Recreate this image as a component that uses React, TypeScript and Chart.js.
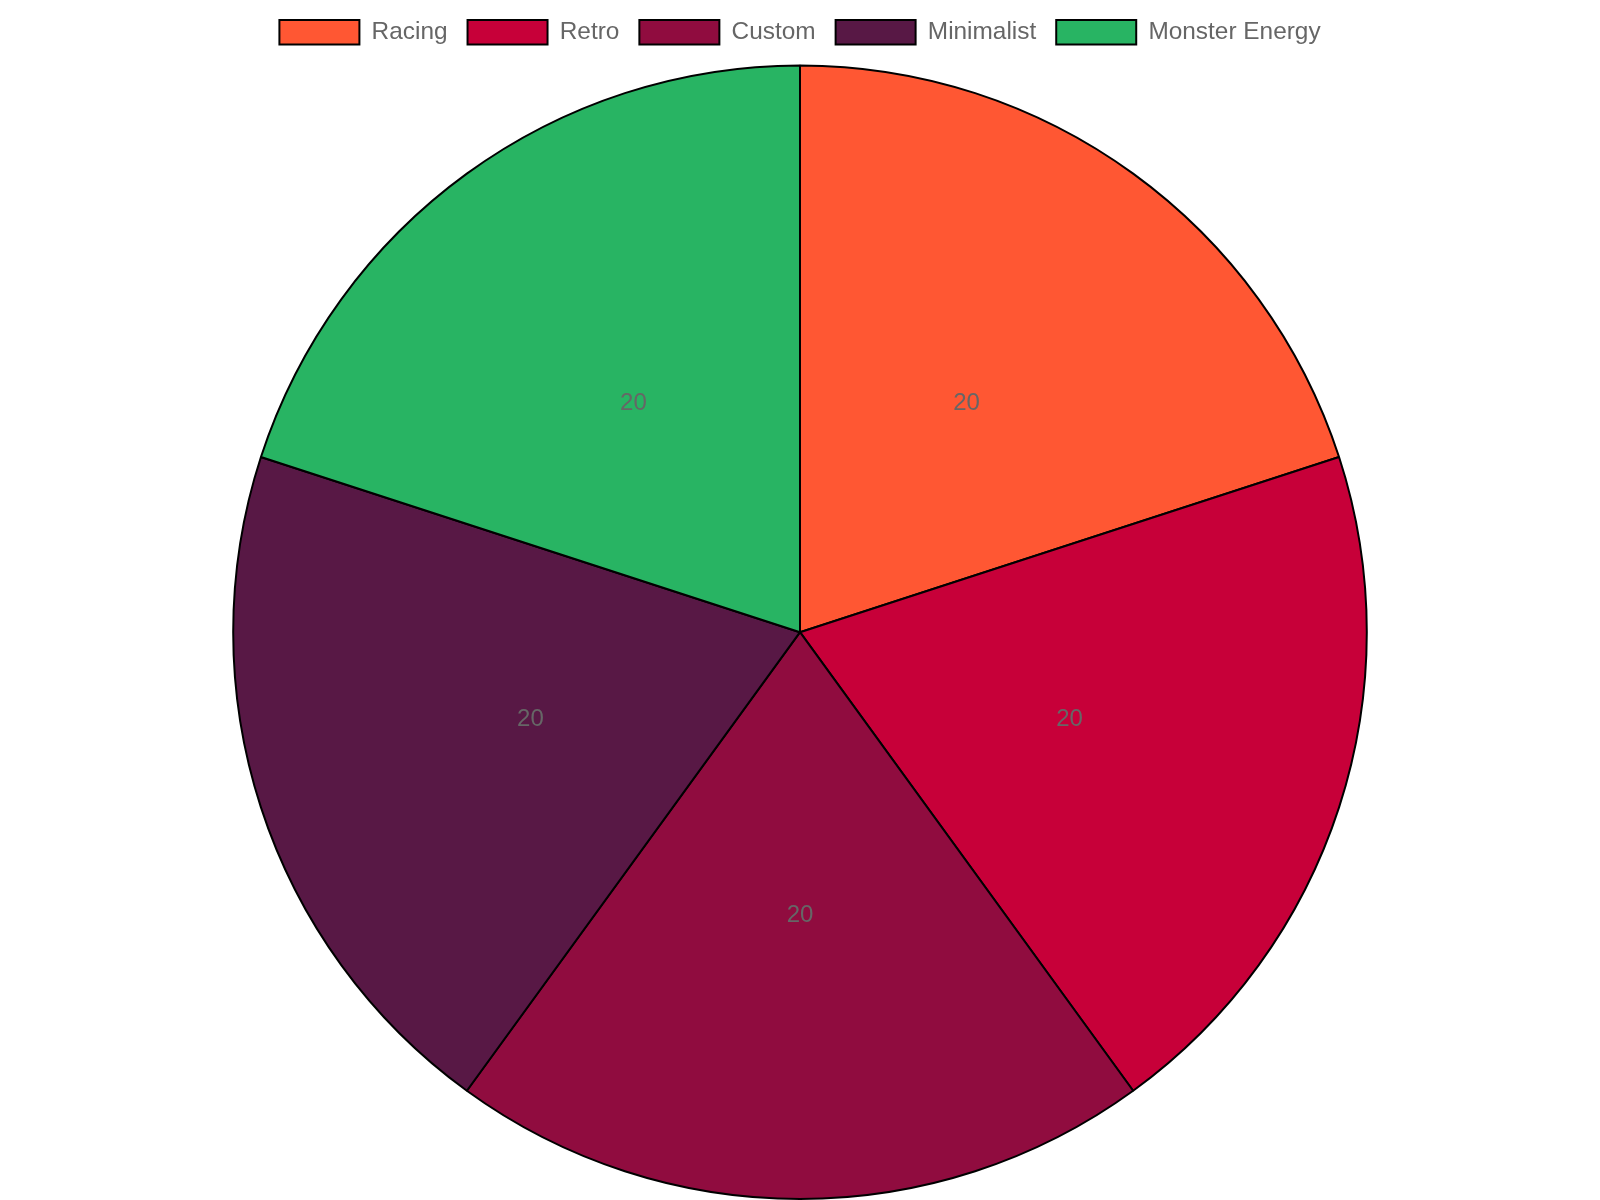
import { useEffect, useRef } from "react";
import { Chart, registerables } from "chart.js";

Chart.register(...registerables);

const categories = ["Racing", "Retro", "Custom", "Minimalist", "Monster Energy"];
const shareValues = [20, 20, 20, 20, 20];
const sliceColors = ["#FF5733", "#C70039", "#900C3F", "#581845", "#28B463"];

// draws the value in the middle of each slice
const sliceLabels = {
  id: "sliceLabels",
  afterDatasetsDraw(chart: any) {
    const ctx = chart.ctx;
    const meta = chart.getDatasetMeta(0);
    ctx.save();
    ctx.font = "24px 'Liberation Sans', Arial, sans-serif";
    ctx.fillStyle = "#666666";
    ctx.textAlign = "center";
    ctx.textBaseline = "middle";
    meta.data.forEach((arc: any, i: number) => {
      const pos = arc.tooltipPosition();
      ctx.fillText(String(chart.data.datasets[0].data[i]), pos.x, pos.y);
    });
    ctx.restore();
  },
};

// a bit more room under the legend
const legendGap = {
  id: "legendGap",
  afterInit(chart: any) {
    const legend = chart.legend;
    if (!legend) return;
    const fit = legend.fit;
    legend.fit = function () {
      fit.call(legend);
      legend.height += 10;
    };
  },
};

export default function App() {
  const chartRef = useRef<HTMLCanvasElement>(null);
  const chartInstance = useRef<Chart | null>(null);

  useEffect(() => {
    document.body.style.margin = "0";
    if (chartRef.current) {
      if (chartInstance.current) {
        chartInstance.current.destroy();
      }
      const ctx = chartRef.current.getContext("2d");
      if (ctx) {
        chartInstance.current = new Chart(ctx, {
          type: "pie",
          data: {
            labels: categories,
            datasets: [
              {
                data: shareValues,
                backgroundColor: sliceColors,
                borderColor: "#000000",
                borderWidth: 2,
              },
            ],
          },
          options: {
            responsive: true,
            maintainAspectRatio: false,
            animation: false,
            plugins: {
              legend: {
                position: "top",
                labels: {
                  color: "#666666",
                  boxWidth: 80,
                  padding: 20,
                  font: {
                    size: 24.4,
                    family: "'Liberation Sans', Arial, sans-serif",
                  },
                },
              },
              tooltip: { enabled: false },
            },
          },
          plugins: [legendGap, sliceLabels],
        });
      }
    }

    return () => {
      if (chartInstance.current) {
        chartInstance.current.destroy();
        chartInstance.current = null;
      }
    };
  }, []);

  return (
    <div style={{ width: 1600, height: 1200, position: "relative", overflow: "hidden" }}>
      <canvas ref={chartRef}></canvas>
    </div>
  );
}
